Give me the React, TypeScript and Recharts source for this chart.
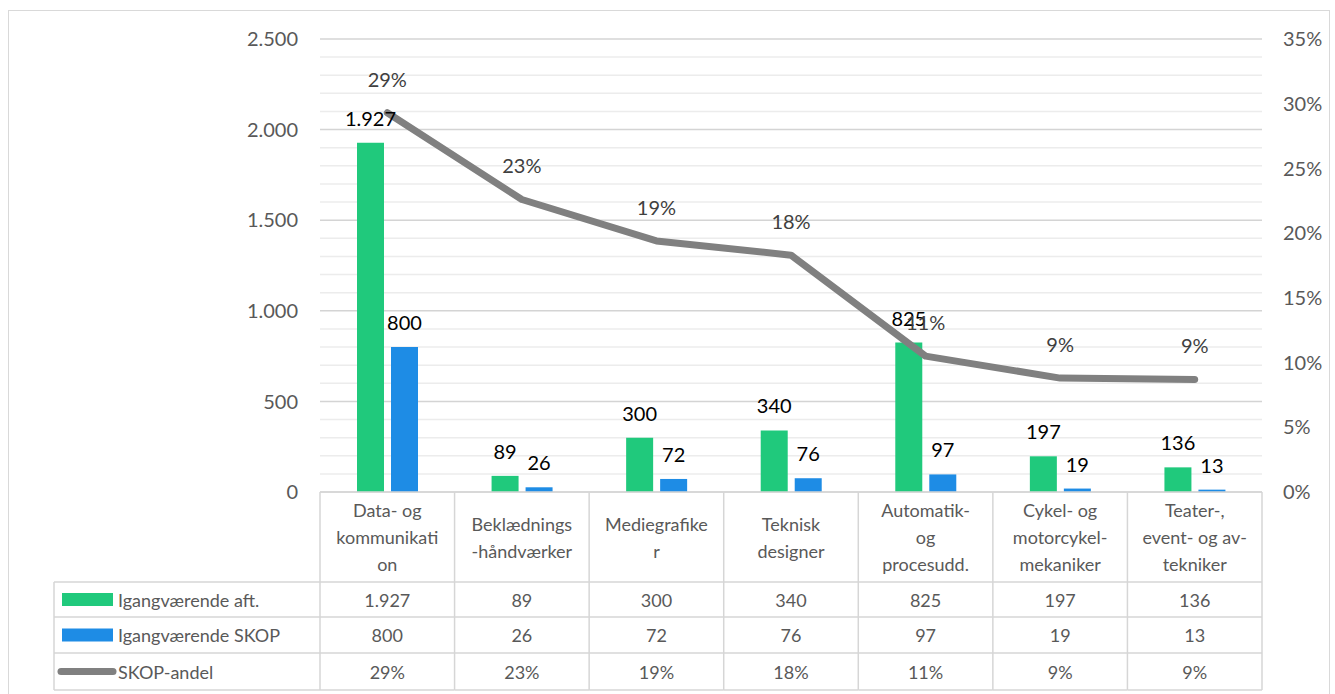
import React from "react";
import {
  ComposedChart,
  Bar,
  Line,
  XAxis,
  YAxis,
  CartesianGrid,
  LabelList,
} from "recharts";

// categories (as wrapped in the table header)
const categories = [
  "Data- og kommunikation",
  "Beklædnings-håndværker",
  "Mediegrafiker",
  "Teknisk designer",
  "Automatik- og procesudd.",
  "Cykel- og motorcykelmekaniker",
  "Teater-, event- og av-tekniker",
];
const headerLines = [
  ["Data- og", "kommunikati", "on"],
  ["Beklædnings", "-håndværker"],
  ["Mediegrafike", "r"],
  ["Teknisk", "designer"],
  ["Automatik-", "og", "procesudd."],
  ["Cykel- og", "motorcykel-", "mekaniker"],
  ["Teater-,", "event- og av-", "tekniker"],
];

const igangvaerende = [1927, 89, 300, 340, 825, 197, 136];
const skop = [800, 26, 72, 76, 97, 19, 13];
const skopAndel = [0.293, 0.226, 0.194, 0.183, 0.105, 0.088, 0.087];

const leftDomain = [0, 2500];
const leftTicks = [0, 500, 1000, 1500, 2000, 2500];
const rightTicks = [0, 0.05, 0.1, 0.15, 0.2, 0.25, 0.3, 0.35];
const minorTicks = [
  100, 200, 300, 400, 600, 700, 800, 900, 1100, 1200, 1300, 1400, 1600, 1700,
  1800, 1900, 2100, 2200, 2300, 2400,
];

const GREEN = "#20C97C";
const BLUE = "#1E8CE5";
const GRAY = "#808080";
const TEXT = "#595959";
const BORDER = "#d6d6d6";

// layout
const W = 1335;
const H = 694;
const PLOT_LEFT = 320;
const PLOT_RIGHT = 1262;
const BAND = (PLOT_RIGHT - PLOT_LEFT) / categories.length;
const TABLE_LEFT = 54;
const ROW_LINES = [582, 617, 653, 690];

const fmt = (n: number) => String(n).replace(/\B(?=(\d{3})+(?!\d))/g, ".");
const pct = (v: number) => `${Math.round(v * 100)}%`;

const data = categories.map((name, i) => ({
  name,
  aft: igangvaerende[i],
  skop: skop[i],
  andel: skopAndel[i],
}));

const tableRows = [
  { label: "Igangværende aft.", values: igangvaerende.map(fmt), kind: "bar", color: GREEN },
  { label: "Igangværende SKOP", values: skop.map(fmt), kind: "bar", color: BLUE },
  { label: "SKOP-andel", values: skopAndel.map(pct), kind: "line", color: GRAY },
];

// minor gridlines (every 100) mapped onto the plot area of the left axis
const minorLines = (props: any) => {
  const scale = props?.yAxis?.scale;
  if (typeof scale === "function") return minorTicks.map((v) => scale(v));
  if (scale && typeof scale.map === "function") return minorTicks.map((v) => scale.map(v));
  const off = props?.offset;
  if (!off) return [];
  const [lo, hi] = leftDomain;
  return minorTicks.map((v) => off.top + off.height * (1 - (v - lo) / (hi - lo)));
};

function TableTick(props: any) {
  const { x, y, payload } = props;
  const i = categories.indexOf(payload.value);
  const left = x - BAND / 2;
  const right = x + BAND / 2;
  const bottom = ROW_LINES[ROW_LINES.length - 1];
  const lines = headerLines[i];
  const lh = 27;
  const headerMid = (y + ROW_LINES[0]) / 2;
  const firstY = headerMid - ((lines.length - 1) * lh) / 2;

  return (
    <g>
      <line x1={left} x2={right} y1={y} y2={y} stroke={BORDER} strokeWidth={1.5} />
      <line x1={left} x2={left} y1={y} y2={bottom} stroke={BORDER} strokeWidth={1.5} />
      {i === categories.length - 1 && (
        <line x1={right} x2={right} y1={y} y2={bottom} stroke={BORDER} strokeWidth={1.5} />
      )}
      {ROW_LINES.map((ry) => (
        <line key={ry} x1={left} x2={right} y1={ry} y2={ry} stroke={BORDER} strokeWidth={1.5} />
      ))}
      {lines.map((t, k) => (
        <text
          key={k}
          x={x}
          y={firstY + k * lh}
          textAnchor="middle"
          dominantBaseline="central"
          fill={TEXT}
          fontSize={18}
        >
          {t}
        </text>
      ))}
      {tableRows.map((r, k) => (
        <text
          key={r.label}
          x={x}
          y={(ROW_LINES[k] + ROW_LINES[k + 1]) / 2}
          textAnchor="middle"
          dominantBaseline="central"
          fill={TEXT}
          fontSize={18}
        >
          {r.values[i]}
        </text>
      ))}
      {i === 0 && (
        <g>
          <line x1={TABLE_LEFT} x2={TABLE_LEFT} y1={ROW_LINES[0]} y2={bottom} stroke={BORDER} strokeWidth={1.5} />
          {ROW_LINES.map((ry) => (
            <line key={ry} x1={TABLE_LEFT} x2={left} y1={ry} y2={ry} stroke={BORDER} strokeWidth={1.5} />
          ))}
          {tableRows.map((r, k) => {
            const cy = (ROW_LINES[k] + ROW_LINES[k + 1]) / 2;
            return (
              <g key={r.label}>
                {r.kind === "bar" ? (
                  <rect x={62} y={cy - 6.5} width={51} height={13} fill={r.color} />
                ) : (
                  <line
                    x1={61}
                    x2={113}
                    y1={cy}
                    y2={cy}
                    stroke={r.color}
                    strokeWidth={7}
                    strokeLinecap="round"
                  />
                )}
                <text
                  x={118}
                  y={cy}
                  dominantBaseline="central"
                  fill={TEXT}
                  fontSize={18}
                >
                  {r.label}
                </text>
              </g>
            );
          })}
        </g>
      )}
    </g>
  );
}

export default function App() {
  return (
    <div
      style={{
        position: "absolute",
        left: 0,
        top: 0,
        width: W,
        height: H,
        background: "#fff",
        overflow: "hidden",
        fontFamily: "Lato, sans-serif",
      }}
    >
      <div
        style={{
          position: "absolute",
          left: 8,
          top: 10,
          width: 1320,
          height: 720,
          border: "1px solid #d9d9d9",
        }}
      />
      <div style={{ position: "absolute", left: 0, top: 0 }}>
        <ComposedChart
          width={W}
          height={H}
          data={data}
          margin={{ top: 39, right: 0, bottom: 0, left: 220 }}
          barSize={27}
          barGap={7}
        >
          <CartesianGrid
            yAxisId="left"
            vertical={false}
            horizontalCoordinatesGenerator={minorLines}
            stroke="#ececec"
            strokeWidth={1.5}
          />
          <CartesianGrid yAxisId="left" vertical={false} stroke="#d4d4d4" strokeWidth={1.5} />
          <XAxis
            dataKey="name"
            height={202}
            axisLine={false}
            tickLine={false}
            tickSize={0}
            tickMargin={0}
            interval={0}
            tick={<TableTick />}
          />
          <YAxis
            yAxisId="left"
            width={100}
            domain={leftDomain}
            ticks={leftTicks}
            tickFormatter={fmt}
            axisLine={false}
            tickLine={false}
            tickSize={6}
            tickMargin={16}
            tick={{ fill: TEXT, fontSize: 20 }}
          />
          <YAxis
            yAxisId="right"
            orientation="right"
            width={73}
            domain={[0, 0.35]}
            ticks={rightTicks}
            tickFormatter={pct}
            axisLine={false}
            tickLine={false}
            tickSize={6}
            tickMargin={15}
            tick={{ fill: TEXT, fontSize: 20, textAnchor: "start" }}
          />
          <Bar yAxisId="left" dataKey="aft" fill={GREEN} isAnimationActive={false}>
            <LabelList
              dataKey="aft"
              position="top"
              offset={17}
              formatter={(v: any) => fmt(v)}
              fill="#000"
              fontSize={20}
            />
          </Bar>
          <Bar yAxisId="left" dataKey="skop" fill={BLUE} isAnimationActive={false}>
            <LabelList
              dataKey="skop"
              position="top"
              offset={17}
              formatter={(v: any) => fmt(v)}
              fill="#000"
              fontSize={20}
            />
          </Bar>
          <Line
            yAxisId="right"
            type="linear"
            dataKey="andel"
            stroke={GRAY}
            strokeWidth={7}
            strokeLinecap="round"
            strokeLinejoin="round"
            dot={false}
            activeDot={false}
            isAnimationActive={false}
          >
            <LabelList
              dataKey="andel"
              position="top"
              offset={26}
              formatter={(v: any) => pct(v)}
              fill="#404040"
              fontSize={20}
            />
          </Line>
        </ComposedChart>
      </div>
    </div>
  );
}
